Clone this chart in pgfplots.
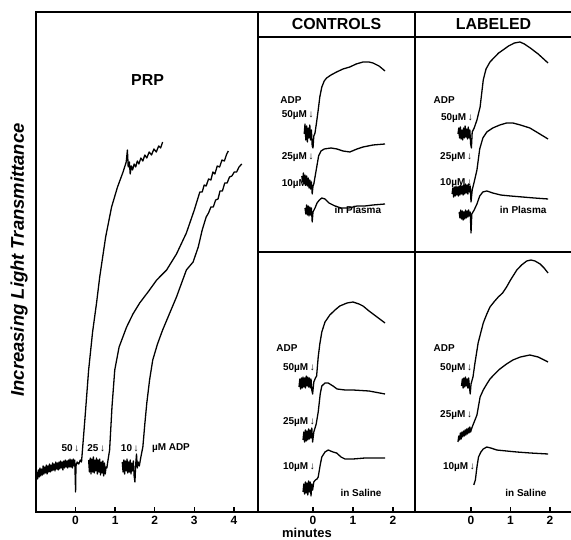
\documentclass[border=0pt]{standalone}
\usepackage{fontspec}
\setmainfont{Liberation Sans}
\usepackage{pgfplots}
\pgfplotsset{compat=1.18}

\pgfplotsset{
  panel/.style={scale only axis, anchor=south west, clip=false,
    axis line style={line width=1.5pt},
    ytick=\empty, xtick pos=lower, tick align=inside,
    major tick length=5pt, xtick style={line width=1.3pt, black},
    /pgf/number format/assume math mode=true,
    xticklabel style={font=\bfseries\fontsize{12}{12}\selectfont, yshift=-1pt}},
  trace/.style={black, line width=1.3pt, no marks, line join=round},
}
\tikzset{lab/.style={font=\bfseries\fontsize{10}{10}\selectfont, inner sep=0pt}}

\begin{document}
\begin{tikzpicture}[x=1bp,y=1bp]
\useasboundingbox (0,0) rectangle (571,540);

% PRP panel
\begin{axis}[panel, at={(36bp,28bp)}, width=222bp, height=500bp,
  xmin=-1, xmax=4.61, ymin=0, ymax=500, xtick={0,1,2,3,4}]
\addplot[trace] coordinates {(-1.00,31) (-0.98,40) (-0.96,33) (-0.94,42) (-0.92,35) (-0.90,44) (-0.88,36) (-0.86,43) (-0.84,37) (-0.82,46) (-0.80,38) (-0.78,45) (-0.76,39) (-0.74,47) (-0.72,38) (-0.70,46) (-0.68,40) (-0.66,48) (-0.64,40) (-0.62,47) (-0.60,41) (-0.58,49) (-0.56,42) (-0.54,48) (-0.52,41) (-0.50,50) (-0.48,43) (-0.46,49) (-0.44,42) (-0.42,50) (-0.40,43) (-0.38,51) (-0.36,44) (-0.34,50) (-0.32,42) (-0.30,51) (-0.28,44) (-0.26,52) (-0.24,45) (-0.22,51) (-0.20,44) (-0.18,52) (-0.16,45) (-0.14,53) (-0.12,45) (-0.10,52) (-0.08,44) (-0.06,53) (-0.04,46) (-0.02,52) (0.00,20) (0.01,46) (0.04,50) (0.08,48) (0.12,52)
 (0.15,50) (0.24,95) (0.33,142) (0.43,180) (0.53,209) (0.61,235) (0.76,275) (0.91,305) (1.06,325) (1.20,340) (1.28,350) (1.31,362) (1.33,345) (1.36,350) (1.38,338) (1.41,346) (1.44,342) (1.48,348) (1.52,345) (1.56,351) (1.60,348) (1.65,354) (1.70,351) (1.75,357) (1.80,354) (1.86,360) (1.92,357) (1.98,363) (2.04,360) (2.10,366) (2.15,364) (2.20,370)};
\addplot[trace] coordinates {(0.33,52) (0.35,40) (0.37,54) (0.39,38) (0.41,53) (0.43,40) (0.45,55) (0.47,39) (0.49,52) (0.51,41) (0.53,54) (0.55,38) (0.57,52) (0.59,40) (0.61,53) (0.63,37) (0.65,50) (0.67,39) (0.69,51) (0.71,36) (0.73,49) (0.75,38) (0.77,45) (0.79,44)
 (0.82,52) (0.86,62) (0.92,105) (0.99,142) (1.10,165) (1.29,185) (1.45,198) (1.62,209) (1.85,221) (2.05,232) (2.30,242) (2.55,258) (2.80,279) (3.00,302) (3.14,320) (3.20,320) (3.25,327) (3.30,326) (3.36,333) (3.42,332) (3.47,340) (3.52,338) (3.58,346) (3.64,345) (3.70,352) (3.76,351) (3.82,358) (3.86,361)};
\addplot[trace] coordinates {(1.18,50) (1.20,40) (1.22,52) (1.24,38) (1.26,51) (1.28,41) (1.30,53) (1.32,39) (1.34,50) (1.36,40) (1.38,52) (1.40,38) (1.42,49) (1.44,41) (1.46,51) (1.48,36) (1.50,30) (1.52,48) (1.54,58) (1.56,44) (1.58,50) (1.61,46)
 (1.65,55) (1.70,65) (1.75,88) (1.80,109) (1.87,132) (1.95,152) (2.07,168) (2.20,182) (2.38,199) (2.55,215) (2.80,242) (2.97,250) (3.10,265) (3.20,282) (3.30,295) (3.36,299) (3.42,305) (3.48,305) (3.54,312) (3.60,313) (3.65,321) (3.71,321) (3.77,329) (3.83,329) (3.89,335) (3.95,336) (4.01,340) (4.07,340) (4.13,345) (4.20,348)};
\node[font=\bfseries\fontsize{16}{16}\selectfont, inner sep=0pt] at (1.82,432) {PRP};
\node[lab, anchor=east] at (0.10,64) {50\,↓};
\node[lab, anchor=east] at (0.75,64) {25\,↓};
\node[lab, anchor=east] at (1.60,64) {10\,↓};
\node[lab] at (2.41,64) {µM ADP};
\end{axis}

% CONTROLS, in plasma
\begin{axis}[panel, at={(258bp,288bp)}, width=157bp, height=215bp,
  xmin=-1.375, xmax=2.55, ymin=0, ymax=215, xtick=\empty]
\addplot[trace] coordinates {(-0.22,118) (-0.20,128) (-0.18,112) (-0.16,126) (-0.14,110) (-0.12,124) (-0.10,114) (-0.08,127) (-0.06,112) (-0.04,122) (-0.02,106) (0.0,104) (0.02,116) (0.05,119) (0.09,130) (0.13,142) (0.17,155) (0.22,165) (0.28,171) (0.34,174) (0.45,177) (0.59,180) (0.75,183) (0.92,185) (1.08,188) (1.25,190) (1.40,190) (1.50,189) (1.65,186) (1.80,181)};
\addplot[trace] coordinates {(-0.28,76) (-0.26,70) (-0.24,79) (-0.22,68) (-0.20,77) (-0.18,67) (-0.16,76) (-0.14,66) (-0.12,74) (-0.10,64) (-0.08,72) (-0.06,63) (-0.04,70) (-0.02,58) (0.0,66) (0.02,68) (0.08,82) (0.14,96) (0.20,101) (0.28,103) (0.45,104) (0.60,103) (0.75,101) (0.92,100) (1.10,103) (1.25,105) (1.50,107) (1.80,108)};
\addplot[trace] coordinates {(-0.20,44) (-0.18,38) (-0.16,47) (-0.14,37) (-0.12,46) (-0.10,36) (-0.08,45) (-0.06,37) (-0.04,44) (-0.02,30) (0.0,40) (0.05,44) (0.10,49) (0.16,52) (0.22,54) (0.30,53) (0.40,49) (0.55,46) (0.70,44) (0.90,44) (1.10,46) (1.30,46) (1.50,47) (1.80,48)};
\node[lab] at (-0.55,152) {ADP};
\node[lab, anchor=east] at (0.02,137) {50µM\,↓};
\node[lab, anchor=east] at (0.02,95) {25µM\,↓};
\node[lab, anchor=east] at (0.02,68) {10µM\,↓};
\node[lab] at (1.12,42) {in Plasma};
\end{axis}

% LABELED, in plasma
\begin{axis}[panel, at={(415bp,288bp)}, width=157bp, height=215bp,
  xmin=-1.418, xmax=2.557, ymin=0, ymax=215, xtick=\empty]
\addplot[trace] coordinates {(-0.33,118) (-0.31,124) (-0.29,114) (-0.27,125) (-0.25,113) (-0.23,122) (-0.21,112) (-0.19,124) (-0.17,114) (-0.15,126) (-0.13,115) (-0.11,123) (-0.09,113) (-0.07,125) (-0.05,114) (-0.03,122) (-0.01,108) (0.01,104) (0.03,120) (0.08,124) (0.15,132) (0.23,145) (0.31,172) (0.38,183) (0.48,190) (0.60,195) (0.70,199) (0.81,202) (0.95,206) (1.10,209) (1.24,210) (1.35,208) (1.50,204) (1.70,198) (1.95,189)};
\addplot[trace] coordinates {(-0.48,58) (-0.46,64) (-0.44,55) (-0.42,65) (-0.40,56) (-0.38,66) (-0.36,57) (-0.34,65) (-0.32,56) (-0.30,66) (-0.28,57) (-0.26,67) (-0.24,58) (-0.22,66) (-0.20,57) (-0.18,67) (-0.16,58) (-0.14,68) (-0.12,59) (-0.10,67) (-0.08,58) (-0.06,68) (-0.04,60) (-0.02,66) (0.0,50) (0.03,62) (0.08,70) (0.15,82) (0.22,103) (0.30,114) (0.40,120) (0.55,124) (0.73,127) (0.90,129) (1.06,129) (1.25,127) (1.49,124) (1.70,119) (1.95,113)};
\addplot[trace] coordinates {(-0.30,40) (-0.28,34) (-0.26,42) (-0.24,33) (-0.22,41) (-0.20,32) (-0.18,40) (-0.16,33) (-0.14,42) (-0.12,34) (-0.10,41) (-0.08,35) (-0.06,42) (-0.04,36) (-0.02,40) (0.0,19) (0.02,38) (0.08,42) (0.15,48) (0.22,56) (0.30,60) (0.40,61) (0.55,59) (0.75,57) (1.0,56) (1.3,55) (1.6,54) (1.95,53)};
\node[lab] at (-0.68,152) {ADP};
\node[lab, anchor=east] at (0.05,134) {50µM\,↓};
\node[lab, anchor=east] at (0.03,95) {25µM\,↓};
\node[lab, anchor=east] at (0.03,69) {10µM\,↓};
\node[lab] at (1.32,42) {in Plasma};
\end{axis}

% CONTROLS, in saline
\begin{axis}[panel, at={(258bp,28bp)}, width=157bp, height=260bp,
  xmin=-1.375, xmax=2.55, ymin=0, ymax=260, xtick={0,1,2}]
\addplot[trace] coordinates {(-0.35,125) (-0.33,133) (-0.31,123) (-0.29,134) (-0.27,124) (-0.25,135) (-0.23,125) (-0.21,134) (-0.19,124) (-0.17,136) (-0.15,126) (-0.13,135) (-0.11,125) (-0.09,134) (-0.07,124) (-0.05,133) (-0.03,122) (-0.01,118) (0.02,130) (0.06,134) (0.09,136) (0.13,155) (0.17,168) (0.22,180) (0.30,190) (0.42,197) (0.55,202) (0.67,206) (0.85,209) (1.00,210) (1.15,208) (1.25,206) (1.40,201) (1.60,195) (1.80,189)};
\addplot[trace] coordinates {(-0.25,72) (-0.23,80) (-0.21,70) (-0.19,82) (-0.17,71) (-0.15,81) (-0.13,72) (-0.11,83) (-0.09,73) (-0.07,82) (-0.05,74) (-0.03,84) (-0.01,70) (0.02,80) (0.05,84) (0.08,88) (0.13,100) (0.18,118) (0.22,126) (0.30,129) (0.38,129) (0.50,126) (0.60,123) (0.80,122) (1.0,122) (1.4,121) (1.8,118)};
\addplot[trace] coordinates {(-0.25,20) (-0.23,28) (-0.21,18) (-0.19,30) (-0.17,19) (-0.15,29) (-0.13,17) (-0.11,31) (-0.09,20) (-0.07,30) (-0.05,16) (-0.03,28) (-0.01,22) (0.02,30) (0.06,32) (0.10,33) (0.13,35) (0.18,47) (0.22,55) (0.30,60) (0.38,62) (0.50,60) (0.59,59) (0.70,55) (0.80,53) (1.0,53) (1.3,54) (1.8,54)};
\node[lab] at (-0.65,164) {ADP};
\node[lab, anchor=east] at (0.05,144) {50µM\,↓};
\node[lab, anchor=east] at (0.05,90) {25µM\,↓};
\node[lab, anchor=east] at (0.05,45) {10µM\,↓};
\node[lab] at (1.20,19) {in Saline};
\end{axis}

% LABELED, in saline
\begin{axis}[panel, at={(415bp,28bp)}, width=157bp, height=260bp,
  xmin=-1.418, xmax=2.557, ymin=0, ymax=260, xtick={0,1,2}]
\addplot[trace] coordinates {(-0.24,126) (-0.22,133) (-0.20,124) (-0.18,134) (-0.16,125) (-0.14,135) (-0.12,126) (-0.10,133) (-0.08,124) (-0.06,134) (-0.04,125) (-0.02,118) (0.0,128) (0.05,135) (0.10,149) (0.18,169) (0.31,189) (0.40,198) (0.48,205) (0.58,210) (0.69,215) (0.80,219) (0.90,225) (1.00,232) (1.08,237) (1.16,242) (1.28,247) (1.41,251) (1.52,252) (1.62,251) (1.75,248) (1.85,244) (1.95,239)};
\addplot[trace] coordinates {(-0.33,70) (-0.31,76) (-0.29,72) (-0.27,79) (-0.25,73) (-0.23,80) (-0.21,75) (-0.19,81) (-0.17,76) (-0.15,82) (-0.13,77) (-0.11,83) (-0.09,78) (-0.07,84) (-0.05,79) (-0.03,85) (-0.01,80) (0.02,84) (0.08,90) (0.15,97) (0.23,115) (0.31,122) (0.40,128) (0.48,133) (0.60,138) (0.73,143) (0.90,148) (1.06,152) (1.25,155) (1.49,157) (1.70,155) (1.95,150)};
\addplot[trace] coordinates {(0.07,27) (0.11,32) (0.15,45) (0.19,55) (0.25,60) (0.31,63) (0.40,65) (0.50,64) (0.65,62) (0.90,61) (1.16,60) (1.50,59) (1.95,58)};
\node[lab] at (-0.68,164) {ADP};
\node[lab, anchor=east] at (0.03,144) {50µM\,↓};
\node[lab, anchor=east] at (0.03,97) {25µM\,↓};
\node[lab, anchor=east] at (0.10,45) {10µM\,↓};
\node[lab] at (1.39,19) {in Saline};
\end{axis}

% column headers
\draw[line width=1.5pt] (258,503) rectangle (415,528);
\draw[line width=1.5pt] (415,503) rectangle (572,528);
\node[font=\bfseries\fontsize{16}{16}\selectfont] at (336.5,515.5) {CONTROLS};
\node[font=\bfseries\fontsize{16}{16}\selectfont] at (493.5,515.5) {LABELED};

\node[rotate=90, font=\bfseries\itshape\fontsize{18.5}{18.5}\selectfont] at (19,280) {Increasing Light Transmittance};
\node[font=\bfseries\fontsize{13}{13}\selectfont] at (307,7) {minutes};
\end{tikzpicture}
\end{document}
